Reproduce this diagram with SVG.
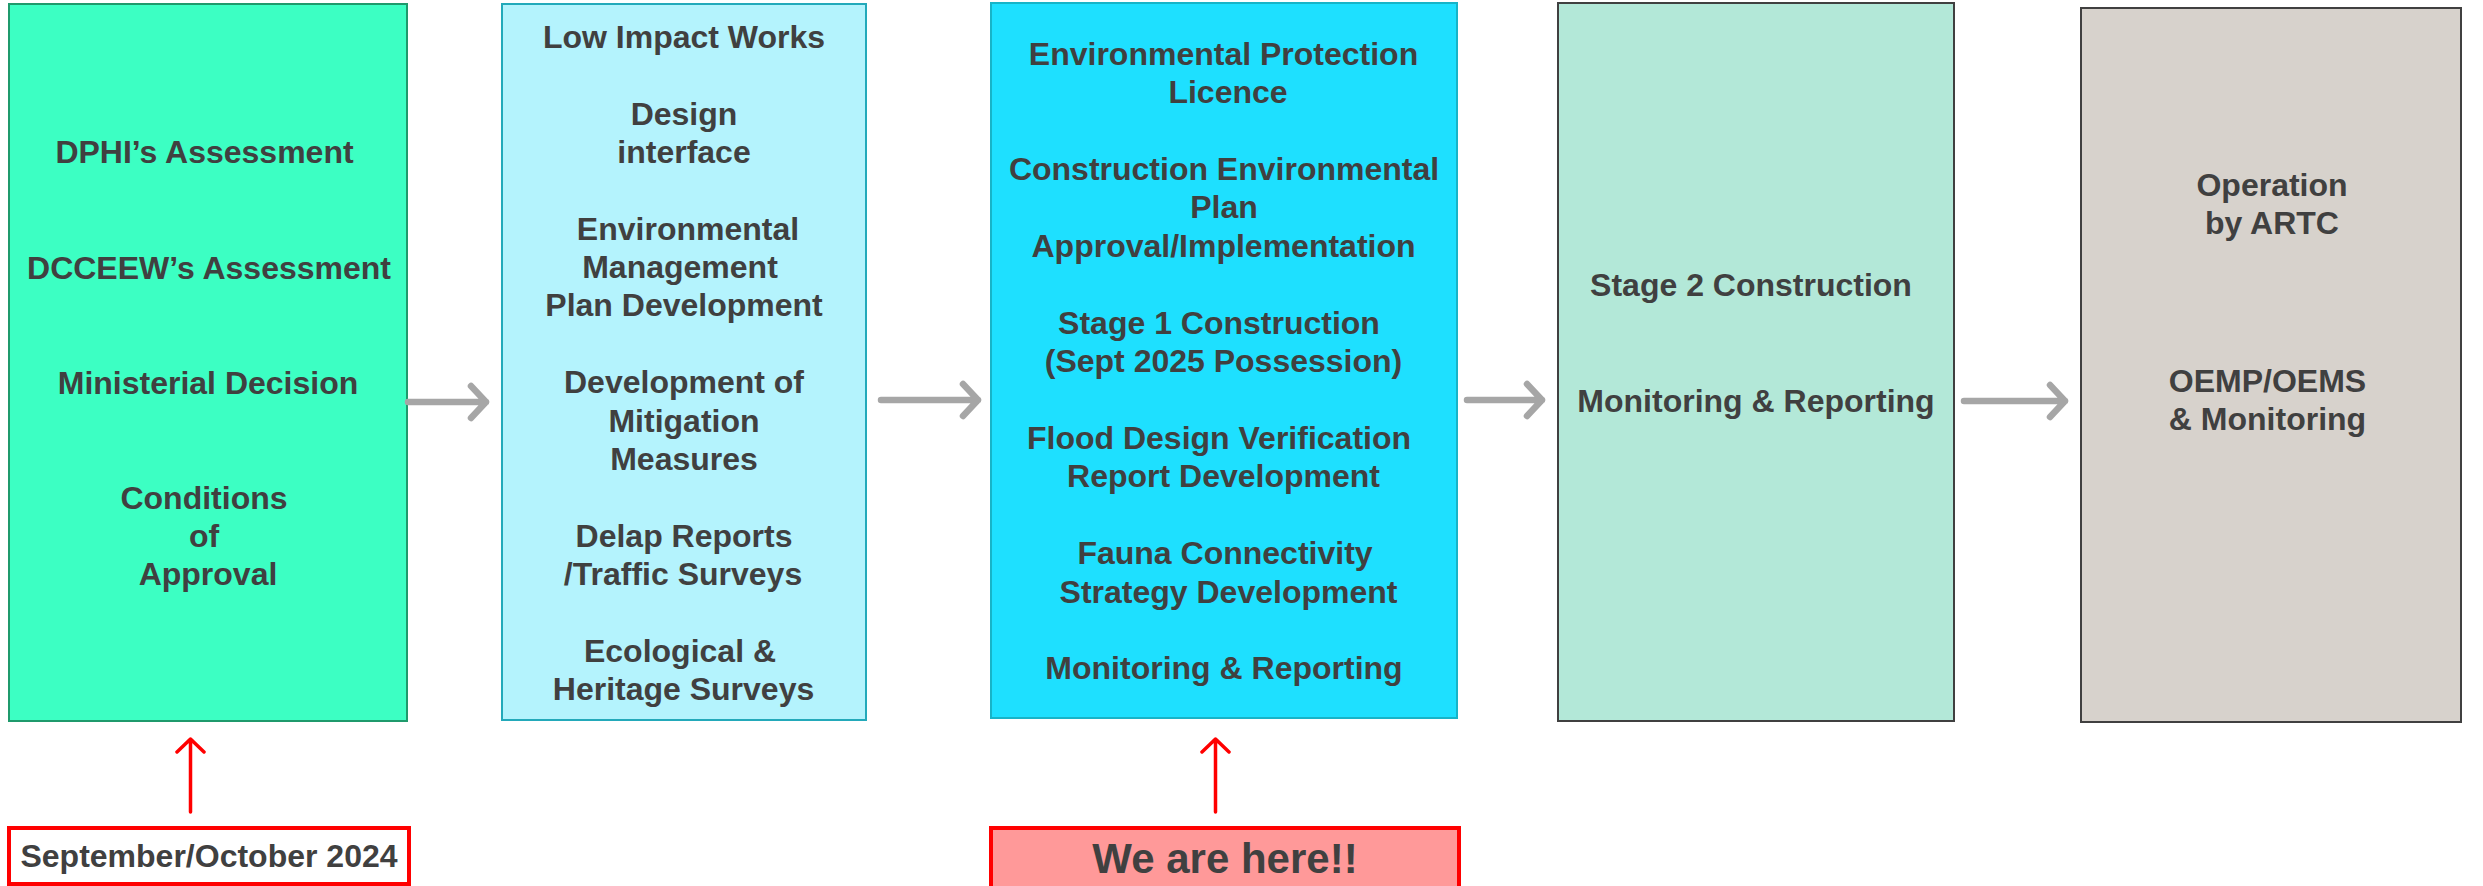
<svg xmlns="http://www.w3.org/2000/svg" width="2483" height="886" viewBox="0 0 2483 886">
  <style>
    .t { font-family: "Liberation Sans", Arial, sans-serif; font-weight: bold; font-size: 32px; fill: #404040; text-anchor: middle; }
    .big { font-size: 42px; }
    .gray { fill: none; stroke: #A6A6A6; stroke-width: 6.5; stroke-linecap: round; stroke-linejoin: round; }
    .red { fill: none; stroke: #FF0000; stroke-width: 3.5; stroke-linecap: round; stroke-linejoin: round; }
  </style>
  <rect width="2483" height="886" fill="#FFFFFF"/>

  <g id="node-approval">
    <rect x="9" y="4" width="398" height="717" fill="#3CFFC3" stroke="#1F9A6C" stroke-width="2"/>
    <text class="t" x="204.5" y="163">DPHI’s Assessment</text>
    <text class="t" x="209" y="279">DCCEEW’s Assessment</text>
    <text class="t" x="208" y="394">Ministerial Decision</text>
    <text class="t" x="204" y="509">Conditions</text>
    <text class="t" x="204" y="547">of</text>
    <text class="t" x="208" y="585">Approval</text>
  </g>

  <g id="node-preconstruction">
    <rect x="502" y="4" width="364" height="716" fill="#B4F3FD" stroke="#23A9BA" stroke-width="2"/>
    <text class="t" x="684" y="48">Low Impact Works</text>
    <text class="t" x="684" y="125">Design</text>
    <text class="t" x="684" y="163">interface</text>
    <text class="t" x="688" y="240">Environmental</text>
    <text class="t" x="680" y="278">Management</text>
    <text class="t" x="684" y="316">Plan Development</text>
    <text class="t" x="684" y="393">Development of</text>
    <text class="t" x="684" y="432">Mitigation</text>
    <text class="t" x="684" y="470">Measures</text>
    <text class="t" x="684" y="547">Delap Reports</text>
    <text class="t" x="683" y="585">/Traffic Surveys</text>
    <text class="t" x="680" y="662">Ecological &amp;</text>
    <text class="t" x="683.5" y="700">Heritage Surveys</text>
  </g>

  <g id="node-stage1">
    <rect x="991" y="3" width="466" height="715" fill="#1EE0FF" stroke="#17B4C8" stroke-width="2"/>
    <text class="t" x="1223.5" y="65">Environmental Protection</text>
    <text class="t" x="1228" y="103">Licence</text>
    <text class="t" x="1224" y="180">Construction Environmental</text>
    <text class="t" x="1224" y="218">Plan</text>
    <text class="t" x="1223.5" y="257">Approval/Implementation</text>
    <text class="t" x="1219" y="334">Stage 1 Construction</text>
    <text class="t" x="1223.5" y="372">(Sept 2025 Possession)</text>
    <text class="t" x="1219" y="449">Flood Design Verification</text>
    <text class="t" x="1223.5" y="487">Report Development</text>
    <text class="t" x="1225" y="564">Fauna Connectivity</text>
    <text class="t" x="1228.5" y="603">Strategy Development</text>
    <text class="t" x="1224" y="679">Monitoring &amp; Reporting</text>
  </g>

  <g id="node-stage2">
    <rect x="1558" y="3" width="396" height="718" fill="#B3E8D8" stroke="#404040" stroke-width="2"/>
    <text class="t" x="1751" y="296">Stage 2 Construction</text>
    <text class="t" x="1756" y="412">Monitoring &amp; Reporting</text>
  </g>

  <g id="node-operation">
    <rect x="2081" y="8" width="380" height="714" fill="#D7D2CC" stroke="#404040" stroke-width="2"/>
    <text class="t" x="2272" y="196">Operation</text>
    <text class="t" x="2272" y="234">by ARTC</text>
    <text class="t" x="2267.5" y="392">OEMP/OEMS</text>
    <text class="t" x="2267.5" y="430">&amp; Monitoring</text>
  </g>

  <g id="node-date">
    <rect x="9" y="828" width="400" height="56" fill="#FFFFFF" stroke="#FF0000" stroke-width="4"/>
    <text class="t" x="209" y="867">September/October 2024</text>
  </g>

  <g id="node-here">
    <rect x="991" y="828" width="468" height="70" fill="#FF9999" stroke="#FF0000" stroke-width="4"/>
    <text class="t big" x="1225" y="873">We are here!!</text>
  </g>

  <g id="connectors">
    <path class="gray" d="M408 402 H486 M471 386 L486 402 L471 418"/>
    <path class="gray" d="M881 400 H978 M963 384 L978 400 L963 416"/>
    <path class="gray" d="M1467 400 H1542 M1527 384 L1542 400 L1527 416"/>
    <path class="gray" d="M1964 401 H2065 M2050 385 L2065 401 L2050 417"/>
    <path class="red" d="M190.5 812 V739 M177 752 L190.5 739 L204 752"/>
    <path class="red" d="M1215.5 812 V739 M1202 752 L1215.5 739 L1229 752"/>
  </g>
</svg>
